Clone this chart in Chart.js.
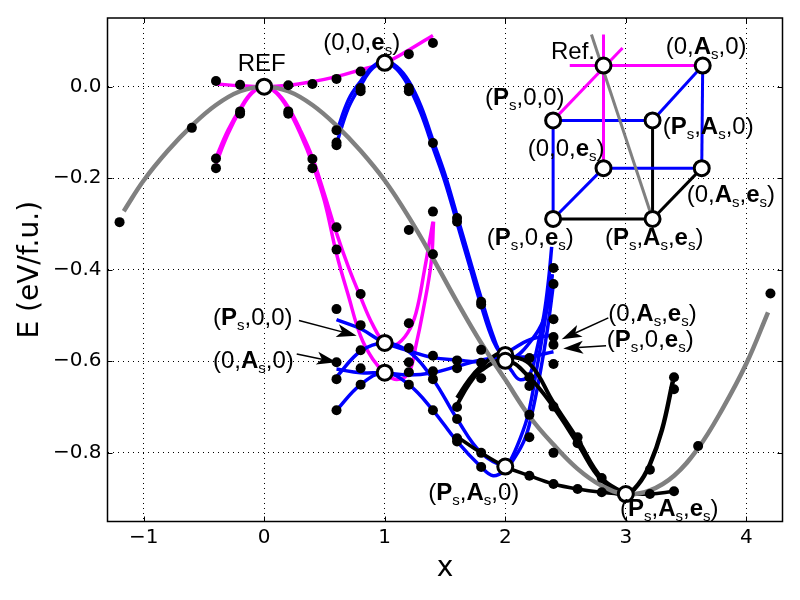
<!DOCTYPE html>
<html>
<head>
<meta charset="utf-8">
<style>
  html, body { margin: 0; padding: 0; background: #fff; }
  #wrap { width: 800px; height: 600px; }
</style>
<script src="https://cdn.jsdelivr.net/npm/chart.js@4"></script>
</head>
<body>
<div id="wrap"><canvas id="energy-chart" width="800" height="600"></canvas></div>
<script>
// axis ticks
const xTicks = [-1, 0, 1, 2, 3, 4];
const yTicks = [0, -0.2, -0.4, -0.6, -0.8];

// computed energies
const dotX = [-1.2, -0.6, -0.4, -0.4, -0.4, -0.2, -0.2, -0.2, 0.2, 0.2, 0.2, 0.4, 0.4, 0.4,
  0.6, 0.6, 0.6, 0.6, 0.6, 0.6, 0.6, 0.6, 0.6, 0.6,
  0.8, 0.8, 0.8, 0.8, 0.8, 0.8, 0.8, 0.8,
  1.2, 1.2, 1.2, 1.2, 1.2, 1.2, 1.2, 1.2, 1.2,
  1.4, 1.4, 1.4, 1.4, 1.4, 1.4, 1.4, 1.4,
  1.6, 1.6, 1.6, 1.6, 1.6, 1.6, 1.6, 1.6,
  1.8, 1.8, 1.8, 1.8, 1.8, 1.8, 1.8,
  2.2, 2.2, 2.2, 2.2, 2.2, 2.2,
  2.4, 2.4, 2.4, 2.4, 2.4, 2.4, 2.4, 2.4, 2.4,
  2.6, 2.6, 2.6, 2.8, 2.8, 3.2, 3.2, 3.4, 3.4, 3.4, 3.6, 4.2];
const dotE = [-0.296, -0.09, 0.0125, -0.157, -0.178, 0.004, -0.054, -0.059, 0.003, -0.054, -0.059, 0.006, -0.158, -0.178,
  0.017, -0.095, -0.122, -0.128, -0.307, -0.356, -0.486, -0.602, -0.639, -0.707,
  0.033, -0.003, -0.01, -0.453, -0.521, -0.576, -0.615, -0.651,
  0.071, -0.003, -0.01, -0.313, -0.517, -0.571, -0.602, -0.624, -0.651,
  0.0955, -0.123, -0.273, -0.366, -0.588, -0.622, -0.639, -0.707,
  -0.287, -0.295, -0.598, -0.615, -0.70, -0.726, -0.768, -0.775,
  -0.47, -0.476, -0.575, -0.603, -0.637, -0.80, -0.831,
  -0.593, -0.635, -0.654, -0.717, -0.766, -0.85,
  -0.396, -0.431, -0.508, -0.547, -0.564, -0.606, -0.699, -0.80, -0.868,
  -0.766, -0.779, -0.879, -0.855, -0.886, -0.837, -0.89, -0.635, -0.661, -0.884, -0.785, -0.452];

// grey path from the reference state to the full (Ps,As,es) minimum
const greyX = [-1.165, -1.0, -0.8, -0.6, -0.4, -0.2, 0, 0.2, 0.4, 0.6, 0.8, 1.0, 1.2, 1.4, 1.6, 1.8, 2.0, 2.2, 2.4, 2.6, 2.8, 3.0, 3.2, 3.4, 3.6, 3.8, 4.0, 4.18];
const greyE = [-0.272, -0.205, -0.14, -0.085, -0.04, -0.01, 0, -0.01, -0.04, -0.085, -0.14, -0.205, -0.285, -0.375, -0.47, -0.56, -0.64, -0.72, -0.782, -0.835, -0.872, -0.89, -0.882, -0.85, -0.79, -0.705, -0.605, -0.493];

// magenta: reference towards the single-mode states
const magentaEsX = [-0.4, -0.2, 0, 0.2, 0.4, 0.6, 0.8, 1.0, 1.2, 1.4];
const magentaEsE = [0.006, 0.002, 0, 0.003, 0.011, 0.022, 0.037, 0.052, 0.08, 0.112];
const magentaPsX = [-0.4, -0.3, -0.2, -0.1, 0, 0.1, 0.2, 0.3, 0.4, 0.5, 0.6, 0.7, 0.8, 0.9, 1.0, 1.09, 1.19, 1.26, 1.33, 1.4];
const magentaPsE = [-0.155, -0.095, -0.048, -0.012, 0, -0.012, -0.045, -0.095, -0.155, -0.235, -0.32, -0.395, -0.46, -0.52, -0.56, -0.564, -0.538, -0.494, -0.40, -0.295];
const magentaAsX = [-0.4, -0.3, -0.2, -0.1, 0, 0.1, 0.2, 0.3, 0.4, 0.5, 0.6, 0.7, 0.8, 0.9, 1.0, 1.1, 1.2, 1.26, 1.315, 1.385, 1.405];
const magentaAsE = [-0.168, -0.103, -0.052, -0.014, 0, -0.014, -0.05, -0.103, -0.168, -0.25, -0.365, -0.458, -0.545, -0.595, -0.625, -0.64, -0.625, -0.564, -0.494, -0.385, -0.295];

// blue: the two-mode paths
const blueEs1X = [0.6, 0.7, 0.8, 0.9, 1.0, 1.1, 1.2, 1.3, 1.4, 1.5, 1.6, 1.7, 1.8, 1.9, 2.0, 2.05, 2.12, 2.2, 2.26, 2.32, 2.36, 2.385];
const blueEs1E = [-0.125, -0.045, 0.002, 0.04, 0.052, 0.038, 0, -0.058, -0.133, -0.208, -0.298, -0.388, -0.478, -0.555, -0.6, -0.62, -0.64, -0.63, -0.576, -0.50, -0.42, -0.35];
const blueEs2X = [0.6, 0.7, 0.8, 0.9, 1.0, 1.1, 1.2, 1.3, 1.4, 1.5, 1.6, 1.7, 1.8, 1.9, 1.97, 2.05, 2.2, 2.33, 2.39];
const blueEs2E = [-0.10, -0.028, 0.012, 0.044, 0.055, 0.044, 0.012, -0.042, -0.117, -0.192, -0.282, -0.372, -0.462, -0.545, -0.585, -0.595, -0.56, -0.50, -0.41];
const bluePsAX = [0.6, 0.8, 1.0, 1.2, 1.4, 1.6, 1.8, 2.0, 2.2, 2.4];
const bluePsAE = [-0.509, -0.529, -0.56, -0.577, -0.592, -0.597, -0.60, -0.582, -0.553, -0.542];
const blueAsAX = [0.6, 0.8, 1.0, 1.2, 1.4, 1.6, 1.8, 2.0, 2.2, 2.4];
const blueAsAE = [-0.617, -0.625, -0.625, -0.63, -0.625, -0.611, -0.597, -0.59, -0.59, -0.579];
const bluePsDownX = [0.6, 0.8, 1.0, 1.2, 1.4, 1.6, 1.8, 2.0, 2.04, 2.12, 2.19, 2.26, 2.33, 2.39];
const bluePsDownE = [-0.634, -0.578, -0.56, -0.579, -0.639, -0.726, -0.80, -0.83, -0.818, -0.771, -0.716, -0.618, -0.51, -0.41];
const blueAsDownX = [0.6, 0.8, 1.0, 1.2, 1.4, 1.6, 1.8, 1.9, 2.0, 2.06, 2.16, 2.22, 2.29, 2.35, 2.4];
const blueAsDownE = [-0.707, -0.651, -0.625, -0.651, -0.707, -0.775, -0.831, -0.85, -0.838, -0.818, -0.771, -0.716, -0.625, -0.53, -0.43];

// black: approaching (Ps,As,es)
const black1X = [1.6, 1.7, 1.8, 1.95, 2.0, 2.2, 2.4, 2.6, 2.8, 3.0];
const black1E = [-0.68, -0.64, -0.611, -0.582, -0.586, -0.605, -0.69, -0.77, -0.855, -0.89];
const black2X = [1.6, 1.7, 1.8, 2.0, 2.2, 2.4, 2.6, 2.8, 3.0];
const black2E = [-0.695, -0.65, -0.62, -0.597, -0.635, -0.70, -0.78, -0.86, -0.89];
const black3X = [1.6, 1.8, 2.0, 2.2, 2.4, 2.6, 2.8, 3.0, 3.2, 3.4];
const black3E = [-0.765, -0.80, -0.83, -0.85, -0.868, -0.879, -0.886, -0.89, -0.89, -0.884];
const black4X = [2.8, 3.0, 3.1, 3.2, 3.3, 3.39];
const black4E = [-0.88, -0.89, -0.87, -0.825, -0.75, -0.644];

// high symmetry states on the curves
const stateX = [0, 1, 1, 1, 2, 2, 2, 3];
const stateE = [0, 0.052, -0.56, -0.625, -0.586, -0.599, -0.83, -0.89];

// cube corners in the corner sketch
const refCorner = [2.815, 0.046];
const aCorner = [3.638, 0.046];
const pCorner = [2.397, -0.0737];
const paCorner = [3.222, -0.0737];
const eCorner = [2.815, -0.178];
const aeCorner = [3.63, -0.178];
const peCorner = [2.397, -0.289];
const paeCorner = [3.222, -0.289];

const cubeMagenta = [
  [[2.535, 0.046], aCorner],
  [pCorner, [2.973, 0.0846]],
  [[2.815, 0.114], eCorner]
];
const cubeBlue = [
  [pCorner, paCorner],
  [pCorner, peCorner],
  [aCorner, paCorner],
  [aCorner, aeCorner],
  [eCorner, aeCorner],
  [eCorner, peCorner]
];
const cubeBlack = [
  [paCorner, paeCorner],
  [aeCorner, paeCorner],
  [peCorner, paeCorner]
];
const cubeGrey = [[2.715, 0.114], paeCorner];
const cubeCorners = [refCorner, aCorner, pCorner, paCorner, eCorner, aeCorner, peCorner, paeCorner];

// text: *bold* and _s subscript
const labelTexts = ['REF', '(0,0,*e*_s)', '(*P*_s,0,0)', '(0,*A*_s,0)', '(*P*_s,*A*_s,0)', '(*P*_s,*A*_s,*e*_s)',
  '(0,*A*_s,*e*_s)', '(*P*_s,0,*e*_s)',
  'Ref.', '(0,*A*_s,0)', '(*P*_s,0,0)', '(*P*_s,*A*_s,0)', '(0,0,*e*_s)', '(0,*A*_s,*e*_s)', '(*P*_s,0,*e*_s)', '(*P*_s,*A*_s,*e*_s)'];
const labelX = [-0.22, 0.49, -0.425, -0.425, 1.361, 2.952, 2.855, 2.841, 2.379, 3.331, 1.832, 3.306, 2.186, 3.505, 1.846, 2.827];
const labelY = [0.035, 0.079, -0.52, -0.614, -0.903, -0.937, -0.513, -0.569, 0.06, 0.071, -0.041, -0.103, -0.152, -0.253, -0.345, -0.345];

// arrows pointing at the states
const arrowFromX = [0.289, 0.27, 2.855, 2.836];
const arrowFromY = [-0.511, -0.584, -0.505, -0.566];
const arrowToX = [0.767, 0.601, 2.468, 2.481];
const arrowToY = [-0.544, -0.602, -0.552, -0.572];

function toPoints(xs, ys) {
  return xs.map((x, i) => ({ x: x, y: ys[i] }));
}

function curve(xs, ys, color, width, order) {
  return {
    data: toPoints(xs, ys),
    showLine: true,
    borderColor: color,
    borderWidth: width,
    borderCapStyle: 'butt',
    tension: 0.4,
    pointRadius: 0,
    order: order
  };
}

function segment(pair, color, width) {
  return {
    data: pair.map(p => ({ x: p[0], y: p[1] })),
    showLine: true,
    borderColor: color,
    borderWidth: width,
    tension: 0,
    pointRadius: 0,
    order: 6
  };
}

function circles(points) {
  return {
    data: points,
    showLine: false,
    pointRadius: 7.5,
    pointBackgroundColor: '#fff',
    pointBorderColor: '#000',
    pointBorderWidth: 3,
    order: 1
  };
}

const datasets = [
  circles(toPoints(stateX, stateE)),
  circles(cubeCorners.map(p => ({ x: p[0], y: p[1] }))),
  // black dots go above the curves
  { data: toPoints(dotX, dotE), showLine: false, pointRadius: 5, pointBackgroundColor: '#000', pointBorderWidth: 0, order: 2 },
  curve(greyX, greyE, '#808080', 4.5, 3),
  curve(black1X, black1E, '#000', 4, 4),
  curve(black2X, black2E, '#000', 4, 4),
  curve(black3X, black3E, '#000', 3.5, 4),
  curve(black4X, black4E, '#000', 4.5, 4),
  curve(blueEs1X, blueEs1E, '#0000ff', 3.5, 5),
  curve(blueEs2X, blueEs2E, '#0000ff', 3.5, 5),
  curve(bluePsAX, bluePsAE, '#0000ff', 3.5, 5),
  curve(blueAsAX, blueAsAE, '#0000ff', 3.5, 5),
  curve(bluePsDownX, bluePsDownE, '#0000ff', 3.5, 5),
  curve(blueAsDownX, blueAsDownE, '#0000ff', 3.5, 5),
  curve(magentaEsX, magentaEsE, '#ff00ff', 3.5, 6),
  curve(magentaPsX, magentaPsE, '#ff00ff', 3.5, 6),
  curve(magentaAsX, magentaAsE, '#ff00ff', 3.5, 6),
  segment(cubeGrey, '#808080', 3)
];
cubeMagenta.forEach(s => datasets.push(segment(s, '#ff00ff', 3)));
cubeBlue.forEach(s => datasets.push(segment(s, '#0000ff', 3)));
cubeBlack.forEach(s => datasets.push(segment(s, '#000', 3)));

// draws "(Ps,As,es)" style text piece by piece
function drawRichText(ctx, text, x, y) {
  const parts = text.split(/(\*[^*]+\*|_s)/).filter(p => p !== '');
  ctx.textAlign = 'left';
  ctx.textBaseline = 'alphabetic';
  let left = x;
  parts.forEach(part => {
    let str = part;
    let font = '24px "Liberation Sans"';
    let dy = 0;
    if (part[0] === '*') {
      str = part.slice(1, -1);
      font = 'bold 24px "Liberation Sans"';
    } else if (part === '_s') {
      str = 's';
      font = '15px "Liberation Sans"';
      dy = 5;
    }
    ctx.font = font;
    ctx.fillText(str, left, y + dy);
    left += ctx.measureText(str).width;
  });
}

function drawArrow(ctx, x1, y1, x2, y2) {
  const angle = Math.atan2(y2 - y1, x2 - x1);
  const length = 15;
  const barb = 6.5;
  const backX = x2 - length * Math.cos(angle);
  const backY = y2 - length * Math.sin(angle);
  ctx.beginPath();
  ctx.moveTo(x1, y1);
  ctx.lineTo(backX, backY);
  ctx.lineWidth = 1.5;
  ctx.strokeStyle = '#000';
  ctx.stroke();
  ctx.beginPath();
  ctx.moveTo(x2, y2);
  ctx.lineTo(x2 - 20 * Math.cos(angle) - barb * Math.sin(angle), y2 - 20 * Math.sin(angle) + barb * Math.cos(angle));
  ctx.lineTo(backX, backY);
  ctx.lineTo(x2 - 20 * Math.cos(angle) + barb * Math.sin(angle), y2 - 20 * Math.sin(angle) - barb * Math.cos(angle));
  ctx.closePath();
  ctx.fillStyle = '#000';
  ctx.fill();
}

// frame, inward tick marks, labels and arrows
const decorations = {
  id: 'decorations',
  afterDatasetsDraw(chart) {
    const ctx = chart.ctx;
    const xs = chart.scales.x;
    const ys = chart.scales.y;
    const area = chart.chartArea;
    ctx.save();

    ctx.strokeStyle = '#000';
    ctx.lineWidth = 1;
    ctx.beginPath();
    xTicks.forEach(t => {
      const px = Math.round(xs.getPixelForValue(t)) + 0.5;
      ctx.moveTo(px, area.bottom);
      ctx.lineTo(px, area.bottom - 5);
      ctx.moveTo(px, area.top);
      ctx.lineTo(px, area.top + 5);
    });
    yTicks.forEach(t => {
      const py = Math.round(ys.getPixelForValue(t)) + 0.5;
      ctx.moveTo(area.left, py);
      ctx.lineTo(area.left + 5, py);
      ctx.moveTo(area.right, py);
      ctx.lineTo(area.right - 5, py);
    });
    ctx.stroke();

    ctx.lineWidth = 1.5;
    ctx.strokeRect(area.left, area.top, area.right - area.left, area.bottom - area.top);

    arrowFromX.forEach((x, i) => {
      drawArrow(ctx, xs.getPixelForValue(x), ys.getPixelForValue(arrowFromY[i]),
        xs.getPixelForValue(arrowToX[i]), ys.getPixelForValue(arrowToY[i]));
    });

    ctx.fillStyle = '#000';
    labelTexts.forEach((text, i) => {
      drawRichText(ctx, text, xs.getPixelForValue(labelX[i]), ys.getPixelForValue(labelY[i]));
    });
    ctx.restore();
  }
};

const tickFont = { family: '"DejaVu Sans"', size: 20 };
const titleFont = { family: '"DejaVu Sans"', size: 28, weight: 'normal' };
const gridOptions = { color: '#000', lineWidth: 1, drawTicks: false };
const borderOptions = { display: false, dash: [1, 4] };

new Chart(document.getElementById('energy-chart'), {
  type: 'scatter',
  data: { datasets: datasets },
  plugins: [decorations],
  options: {
    responsive: false,
    animation: false,
    layout: { padding: { top: 18, right: 17.5, left: 0, bottom: 0 } },
    plugins: { legend: { display: false }, tooltip: { enabled: false } },
    scales: {
      x: {
        type: 'linear',
        min: -1.3,
        max: 4.3,
        grid: gridOptions,
        border: borderOptions,
        afterBuildTicks(scale) { scale.ticks = xTicks.map(v => ({ value: v })); },
        afterFit(scale) { scale.height = 78.5; },
        ticks: {
          color: '#000',
          font: tickFont,
          padding: 4,
          maxRotation: 0,
          callback: v => String(v).replace('-', '\u2212')
        },
        title: { display: true, text: 'x', color: '#000', font: titleFont, padding: { top: 0, bottom: 14 } }
      },
      y: {
        type: 'linear',
        min: -0.95,
        max: 0.15,
        grid: gridOptions,
        border: borderOptions,
        afterBuildTicks(scale) { scale.ticks = yTicks.map(v => ({ value: v })); },
        afterFit(scale) { scale.width = 107.5; },
        ticks: {
          color: '#000',
          font: tickFont,
          padding: 6,
          callback: v => v.toFixed(1).replace('-', '\u2212')
        },
        title: { display: true, text: 'E (eV/f.u.)', color: '#000', font: titleFont, padding: { top: 14, bottom: 0 } }
      }
    }
  }
});
</script>
</body>
</html>
